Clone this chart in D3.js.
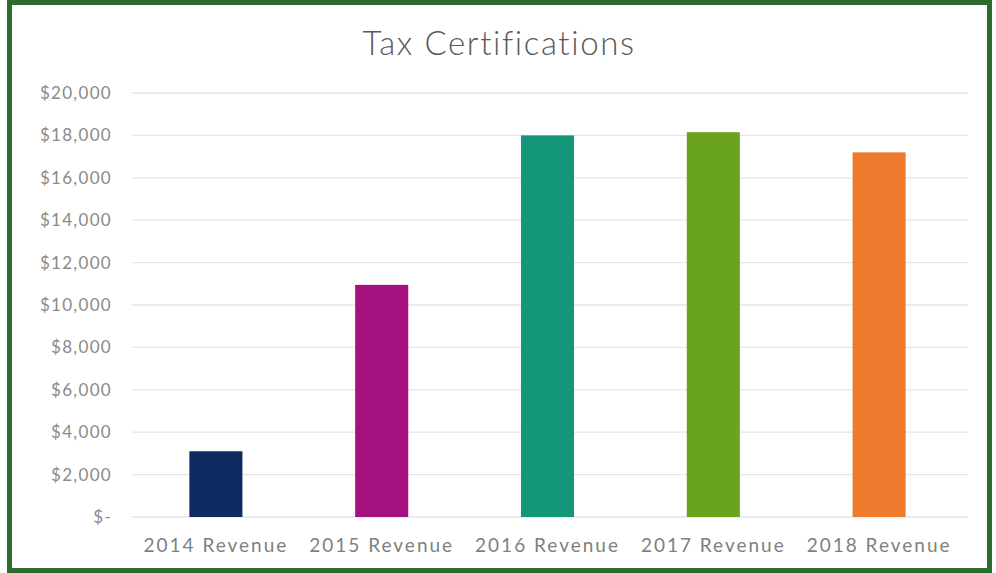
<!DOCTYPE html>
<html>
<head>
<meta charset="utf-8">
<script src="https://cdn.jsdelivr.net/npm/d3@7"></script>
<style>
  body { margin: 0; background: #fff; }
  svg { display: block; }
  text { font-family: Lato, "Noto Sans", sans-serif; fill: #595959; }
</style>
</head>
<body>
<svg id="chart" width="996" height="573"></svg>
<script>
// values
var categories = ["2014 Revenue", "2015 Revenue", "2016 Revenue", "2017 Revenue", "2018 Revenue"]
var revenue = [3100, 10950, 18000, 18150, 17200]
var barColors = ["#0d2b60", "#a4107d", "#13967a", "#6aa31e", "#ee7a2e"]
var yTicks = [0, 2000, 4000, 6000, 8000, 10000, 12000, 14000, 16000, 18000, 20000]

var svg = d3.select("#chart")

// green frame
svg.append("rect").attr("x", 9.5).attr("y", 2.5).attr("width", 980).attr("height", 568)
  .style("fill", "#fff").style("stroke", "#2f6b2f").style("stroke-width", 5)

var margin = { left: 133, right: 34, top: 93, bottom: 56 }
var x = d3.scaleBand().domain(categories).range([margin.left, 962]).paddingInner(0.68).paddingOuter(0.34)
var y = d3.scaleLinear().domain([0, 20000]).range([573 - margin.bottom, margin.top])

svg.append("text").attr("x", 499).attr("y", 55).attr("text-anchor", "middle")
  .style("font-size", "33px").style("font-weight", 300).style("letter-spacing", "1.6px")
  .text("Tax Certifications")

// gridlines
svg.append("g").selectAll("line").data(yTicks).enter().append("line")
  .attr("x1", 132).attr("x2", 968)
  .attr("y1", function (d) { return y(d) }).attr("y2", function (d) { return y(d) })
  .style("stroke", "#e6e6e6").style("stroke-width", 1.3)

var fmt = function (d) { return d === 0 ? "$-" : "$" + d3.format(",")(d) }
var yAxis = svg.append("g").attr("transform", "translate(112,0)")
  .call(d3.axisLeft(y).tickValues(yTicks).tickSize(0).tickPadding(0).tickFormat(fmt))
yAxis.select(".domain").remove()
yAxis.selectAll("text").style("font-size", "17px").style("fill", "#8a8a8a")
  .style("font-family", "Lato, sans-serif").style("letter-spacing", "1.3px")

svg.append("g").selectAll("rect").data(revenue).enter().append("rect")
  .attr("x", function (d, i) { return x(categories[i]) })
  .attr("width", x.bandwidth())
  .attr("y", function (d) { return y(d) })
  .attr("height", function (d) { return y(0) - y(d) })
  .style("fill", function (d, i) { return barColors[i] })

var xAxis = svg.append("g").attr("transform", "translate(0," + y(0) + ")")
  .call(d3.axisBottom(x).tickSize(0).tickPadding(22))
xAxis.select(".domain").remove()
xAxis.selectAll("text").style("font-size", "19px").style("fill", "#7f7f7f")
  .style("font-family", "Lato, sans-serif").style("letter-spacing", "2px")
</script>
</body>
</html>
